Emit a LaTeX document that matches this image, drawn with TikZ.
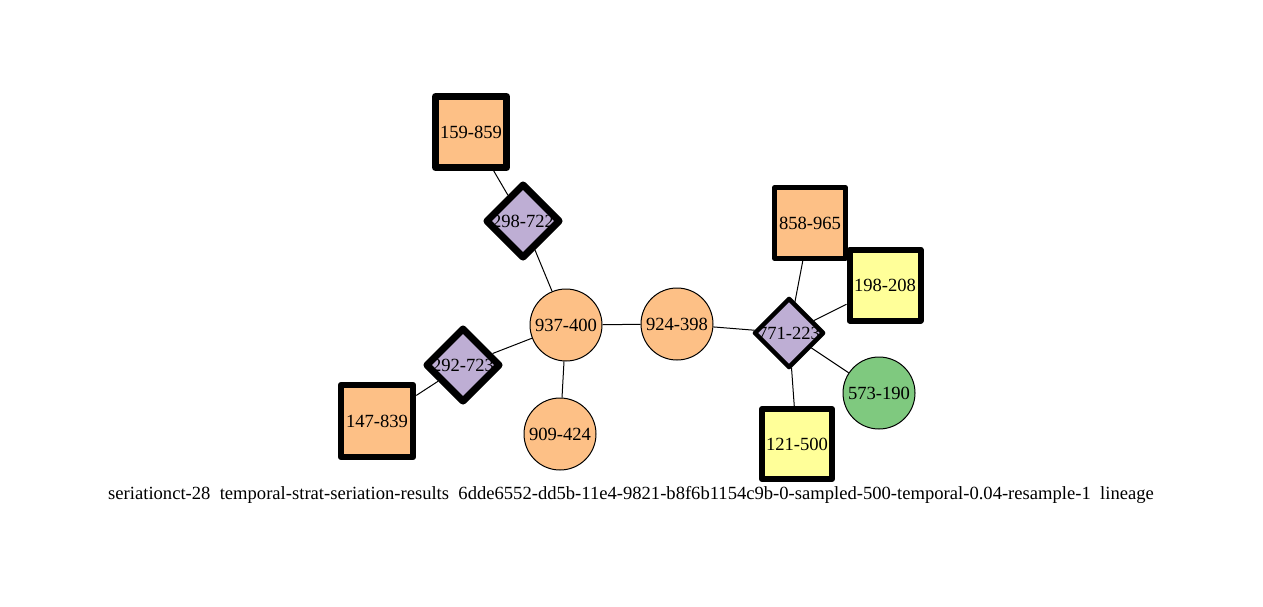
\documentclass[tikz,border=0pt]{standalone}
\usepackage{fontspec}
\setmainfont{Liberation Serif}
\usetikzlibrary{shapes.geometric}
\definecolor{orng}{HTML}{FDC086}
\definecolor{purp}{HTML}{BEAED4}
\definecolor{grn}{HTML}{7FC97F}
\definecolor{ylw}{HTML}{FFFF99}
\begin{document}
\begin{tikzpicture}[x=1pt,y=-1pt,
  every node/.style={font=\fontsize{18.6}{20}\selectfont, inner sep=0pt},
  circ/.style={circle, draw, line width=1pt, minimum size=72pt},
  sq/.style={rectangle, draw, line join=round, minimum size=#1},
  dia/.style={diamond, draw, aspect=1, line join=round, minimum size=#1},
  edge/.style={line width=1pt}]
\useasboundingbox (0,0) rectangle (1263,606);
% nodes
\node[sq=71pt, line width=7pt, fill=orng] (n159) at (471,132) {159-859};
\node[dia=75pt, line width=7pt, fill=purp] (n298) at (523,221) {\makebox[0pt]{298-722}};
\node[circ, fill=orng] (n937) at (566,325) {937-400};
\node[circ, fill=orng] (n924) at (677,324) {924-398};
\node[dia=75pt, line width=7pt, fill=purp] (n292) at (463,365) {\makebox[0pt]{292-723}};
\node[sq=72pt, line width=6.5pt, fill=orng] (n147) at (377,421) {147-839};
\node[circ, fill=orng] (n909) at (560,434) {909-424};
\node[sq=71pt, line width=4.5pt, fill=orng] (n858) at (810,223) {858-965};
\node[sq=71pt, line width=6pt, fill=ylw] (n198) at (885,285) {198-208};
\node[dia=70pt, line width=4.5pt, fill=purp] (n771) at (789,333) {\makebox[0pt]{771-223}};
\node[circ, fill=grn] (n573) at (879,393) {573-190};
\node[sq=70pt, line width=6pt, fill=ylw] (n121) at (797,444) {121-500};
% connectors
\draw[edge] (n159) -- (n298);
\draw[edge] (n298) -- (n937);
\draw[edge] (n937) -- (n292);
\draw[edge] (n292) -- (n147);
\draw[edge] (n937) -- (n909);
\draw[edge] (n937) -- (n924);
\draw[edge] (n924) -- (n771);
\draw[edge] (n771) -- (n858);
\draw[edge] (n771) -- (n198);
\draw[edge] (n771) -- (n573);
\draw[edge] (n771) -- (n121);
% caption
\node (cap) at (631,495) {seriationct-28\ \ temporal-strat-seriation-results\ \ 6dde6552-dd5b-11e4-9821-b8f6b1154c9b-0-sampled-500-temporal-0.04-resample-1\ \ lineage};
\end{tikzpicture}
\end{document}
